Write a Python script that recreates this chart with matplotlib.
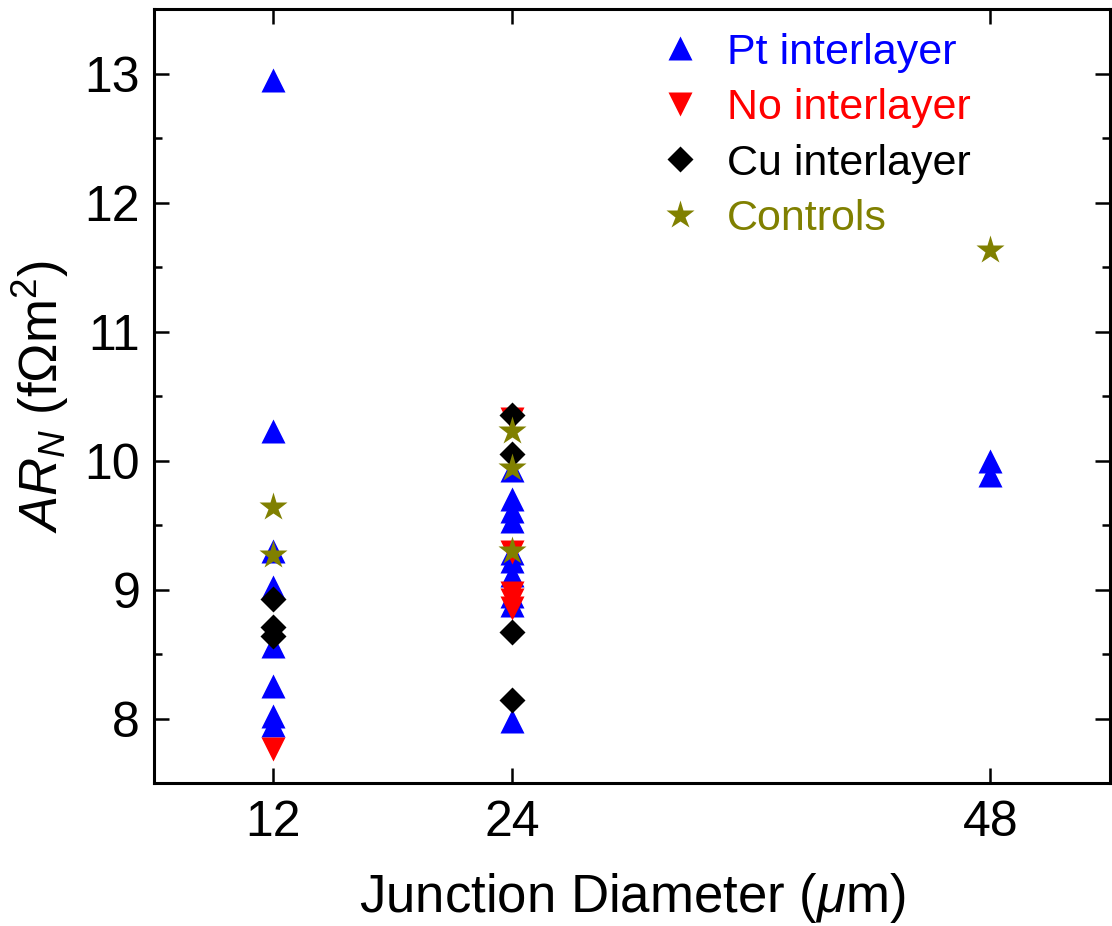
import matplotlib
matplotlib.use('Agg')
from matplotlib import pyplot as plt
from matplotlib.ticker import MultipleLocator

plt.rcParams['font.family'] = ['Liberation Sans', 'DejaVu Sans']
plt.rcParams['mathtext.fontset'] = 'custom'
plt.rcParams['mathtext.rm'] = 'Liberation Sans'
plt.rcParams['mathtext.it'] = 'Liberation Sans:italic'
plt.rcParams['mathtext.bf'] = 'Liberation Sans:bold'

# junction diameter (um) and AR_N (fOhm m^2)
pt_x = [12, 12, 12, 12, 12, 12, 12, 12,
        24, 24, 24, 24, 24, 24, 24, 24, 24, 24,
        48, 48]
pt_y = [12.95, 10.23, 9.30, 9.02, 8.56, 8.25, 8.02, 7.95,
        7.98, 8.88, 8.95, 9.11, 9.22, 9.28, 9.53, 9.61, 9.70, 9.93,
        10.00, 9.89]

no_x = [12, 24, 24, 24, 24, 24]
no_y = [7.76, 8.86, 8.92, 8.97, 9.29, 10.32]

cu_x = [12, 12, 12, 24, 24, 24, 24]
cu_y = [8.93, 8.71, 8.64, 10.35, 10.05, 8.67, 8.14]

ctrl_x = [12, 12, 24, 24, 24, 48]
ctrl_y = [9.64, 9.27, 10.23, 9.94, 9.30, 11.63]

fig = plt.figure(figsize=(11.12, 9.26), dpi=100)
ax = fig.add_axes([0.1385, 0.1544, 0.8595, 0.8356])

ax.plot(pt_x, pt_y, '^', color='#0000ff', ms=17, mec='none', label='Pt interlayer')
ax.plot(no_x, no_y, 'v', color='#ff0000', ms=17, mec='none', label='No interlayer')
ax.plot(cu_x, cu_y, 'D', color='black', ms=13, mec='none', label='Cu interlayer')
ax.plot(ctrl_x, ctrl_y, '*', color='#808000', ms=21, mec='none', label='Controls')

ax.set_xlim(6, 54)
ax.set_ylim(7.5, 13.5)
ax.set_xticks([12, 24, 48])
ax.yaxis.set_major_locator(MultipleLocator(1))
ax.yaxis.set_minor_locator(MultipleLocator(0.5))

for s in ax.spines.values():
    s.set_linewidth(2.2)
ax.tick_params(which='both', direction='in', top=True, right=True, labelsize=36, width=1.8)
ax.tick_params(which='major', length=11)
ax.tick_params(which='minor', length=6)
ax.tick_params(axis='x', pad=12)
ax.tick_params(axis='y', pad=10)

ax.set_xlabel(r'Junction Diameter ($\mu$m)', fontsize=38, labelpad=18)
ax.set_ylabel(r'$AR_N$ (f$\Omega$m$^2$)', fontsize=38, labelpad=10)

leg = ax.legend(loc='upper left', bbox_to_anchor=(0.487, 1.02), frameon=False, fontsize=31,
                numpoints=1, handlelength=1.0, handletextpad=0.6, labelspacing=0.36,
                labelcolor='linecolor')

plt.savefig('out.png', dpi=100)
